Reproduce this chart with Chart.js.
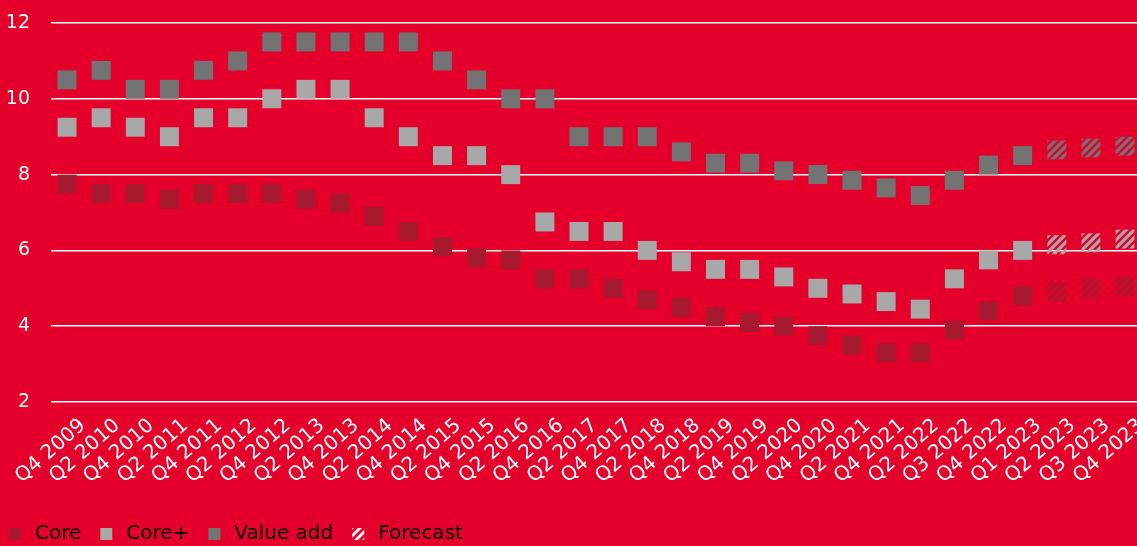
<!DOCTYPE html>
<html>
<head>
<meta charset="utf-8">
<script src="https://cdn.jsdelivr.net/npm/chart.js@4"></script>
<style>
  html, body { margin: 0; padding: 0; background: #E4002B; }
  #wrap { width: 1137px; height: 546px; position: relative; }
</style>
</head>
<body>
<div id="wrap"><canvas id="yieldChart"></canvas></div>
<script>
// Categories
const LABELS = [
    'Q4 2009', 'Q2 2010', 'Q4 2010', 'Q2 2011', 'Q4 2011', 'Q2 2012', 'Q4 2012', 'Q2 2013',
    'Q4 2013', 'Q2 2014', 'Q4 2014', 'Q2 2015', 'Q4 2015', 'Q2 2016', 'Q4 2016', 'Q2 2017',
    'Q4 2017', 'Q2 2018', 'Q4 2018', 'Q2 2019', 'Q4 2019', 'Q2 2020', 'Q4 2020', 'Q2 2021',
    'Q4 2021', 'Q2 2022', 'Q3 2022', 'Q4 2022', 'Q1 2023', 'Q2 2023', 'Q3 2023', 'Q4 2023'
];

// Observed values (Q4 2009 .. Q1 2023)
const CORE = [7.75, 7.5, 7.5, 7.35, 7.5, 7.5, 7.5, 7.35, 7.25, 6.9, 6.5, 6.1, 5.8, 5.75, 5.25,
    5.25, 5.0, 4.7, 4.5, 4.25, 4.1, 4.0, 3.75, 3.5, 3.3, 3.3, 3.9, 4.4, 4.8];
const CORE_PLUS = [9.25, 9.5, 9.25, 9.0, 9.5, 9.5, 10.0, 10.25, 10.25, 9.5, 9.0, 8.5, 8.5, 8.0, 6.75,
    6.5, 6.5, 6.0, 5.7, 5.5, 5.5, 5.3, 5.0, 4.85, 4.65, 4.45, 5.25, 5.75, 6.0];
const VALUE_ADD = [10.5, 10.75, 10.25, 10.25, 10.75, 11.0, 11.5, 11.5, 11.5, 11.5, 11.5, 11.0, 10.5, 10.0, 10.0,
    9.0, 9.0, 9.0, 8.6, 8.3, 8.3, 8.1, 8.0, 7.85, 7.65, 7.45, 7.85, 8.25, 8.5];

// Forecast values (Q2 2023 .. Q4 2023)
const CORE_FC = [4.9, 5.0, 5.05];
const CORE_PLUS_FC = [6.15, 6.2, 6.3];
const VALUE_ADD_FC = [8.65, 8.7, 8.75];

// Y axis ticks
const Y_TICKS = [2, 4, 6, 8, 10, 12];

const SERIES = [
    { name: 'Core', color: '#A6192E', actual: CORE, forecast: CORE_FC },
    { name: 'Core+', color: '#A8A8A8', actual: CORE_PLUS, forecast: CORE_PLUS_FC },
    { name: 'Value add', color: '#737373', actual: VALUE_ADD, forecast: VALUE_ADD_FC }
];

const FONT = 'DejaVu Sans';

// Diagonal hatch pattern. cut=true: colour with transparent stripes; otherwise stripes only
function makeHatch(color, cut, width) {
    const size = 8;
    const c = document.createElement('canvas');
    c.width = c.height = size;
    const g = c.getContext('2d');
    if (cut) {
        g.fillStyle = color;
        g.fillRect(0, 0, size, size);
        g.globalCompositeOperation = 'destination-out';
    }
    g.strokeStyle = color;
    g.lineWidth = width;
    [[0, size, size, 0], [-size / 2, size / 2, size / 2, -size / 2], [size / 2, size * 1.5, size * 1.5, size / 2]]
        .forEach(([x1, y1, x2, y2]) => {
            g.beginPath();
            g.moveTo(x1, y1);
            g.lineTo(x2, y2);
            g.stroke();
        });
    return g.createPattern(c, 'repeat');
}

const nActual = CORE.length;
// category index -> {x, y} points for the linear x axis
const toPoints = (values, start) => values.map((v, i) => ({ x: start + i, y: v }));

const RADIUS = 13.4; // rect side = radius * sqrt(2) ~ 19px

const datasets = [];
SERIES.forEach((s) => {
    datasets.push({
        label: s.name,
        data: toPoints(s.actual, 0),
        pointBackgroundColor: s.color,
        backgroundColor: s.color
    });
});
SERIES.forEach((s) => {
    const hatch = makeHatch(s.color, true, 2.4);
    datasets.push({
        label: s.name + ' forecast',
        data: toPoints(s.forecast, nActual),
        pointBackgroundColor: hatch,
        backgroundColor: hatch
    });
});
datasets.forEach((d) => Object.assign(d, {
    showLine: false,
    pointStyle: 'rect',
    pointRadius: RADIUS,
    pointHoverRadius: RADIUS,
    pointBorderWidth: 0,
    pointHoverBorderWidth: 0,
    borderWidth: 0
}));

Chart.defaults.font.family = FONT;
Chart.defaults.font.size = 19;
Chart.defaults.color = '#FFFFFF';

const legendHatch = makeHatch('#FFFFFF', false, 2.8);

new Chart(document.getElementById('yieldChart'), {
    type: 'line',
    data: { datasets },
    options: {
        responsive: true,
        maintainAspectRatio: false,
        animation: false,
        layout: { autoPadding: false, padding: { left: -10, right: 0, top: 23, bottom: -8 } },
        plugins: {
            legend: {
                position: 'bottom',
                align: 'start',
                labels: {
                    usePointStyle: true,
                    boxWidth: 20,
                    boxHeight: 12,
                    padding: 15,
                    color: '#FFFFFF',
                    font: { size: 20 },
                    generateLabels: (chart) => {
                        const items = SERIES.map((s, i) => ({
                            text: s.name,
                            fillStyle: s.color,
                            strokeStyle: 'rgba(0,0,0,0)',
                            lineWidth: 0,
                            pointStyle: 'rect',
                            hidden: !chart.isDatasetVisible(i),
                            datasetIndex: i
                        }));
                        items.push({
                            text: 'Forecast',
                            fillStyle: legendHatch,
                            strokeStyle: 'rgba(0,0,0,0)',
                            lineWidth: 0,
                            pointStyle: 'rect',
                            hidden: !chart.isDatasetVisible(SERIES.length),
                            datasetIndex: SERIES.length
                        });
                        return items;
                    }
                },
                onClick: (e, item, legend) => {
                    const chart = legend.chart;
                    const idx = item.datasetIndex < SERIES.length
                        ? [item.datasetIndex]
                        : SERIES.map((_, i) => i + SERIES.length);
                    const show = !chart.isDatasetVisible(idx[0]);
                    idx.forEach((i) => chart.setDatasetVisibility(i, show));
                    chart.update();
                }
            },
            tooltip: {
                callbacks: {
                    title: (items) => LABELS[items[0].parsed.x],
                    label: (ctx) => ctx.dataset.label + ': ' + ctx.parsed.y.toFixed(2) + '%'
                }
            }
        },
        scales: {
            x: {
                type: 'linear',
                min: -0.47,
                max: LABELS.length - 1 + 0.35,
                grid: { display: false, drawTicks: false },
                border: { display: false },
                ticks: {
                    autoSkip: false,
                    maxRotation: 41,
                    minRotation: 41,
                    padding: 12,
                    labelOffset: 16,
                    color: '#FFFFFF',
                    font: { size: 20 },
                    callback: (value) => LABELS[value]
                },
                afterBuildTicks: (scale) => {
                    scale.ticks = LABELS.map((_, i) => ({ value: i }));
                },
                afterFit: (scale) => {
                    scale.height = 107;
                    scale.paddingLeft = 0;
                    scale.paddingRight = 0;
                }
            },
            y: {
                min: Y_TICKS[0],
                max: Y_TICKS[Y_TICKS.length - 1],
                grid: { color: '#FFFFFF', lineWidth: 1.5, drawTicks: false },
                border: { display: false },
                ticks: { stepSize: 2, padding: 21, color: '#FFFFFF' },
                afterBuildTicks: (scale) => {
                    scale.ticks = Y_TICKS.map((v) => ({ value: v }));
                },
                afterFit: (scale) => {
                    scale.width = 61;
                    scale.paddingTop = 0;
                    scale.paddingBottom = 0;
                }
            }
        }
    }
});
</script>
</body>
</html>
